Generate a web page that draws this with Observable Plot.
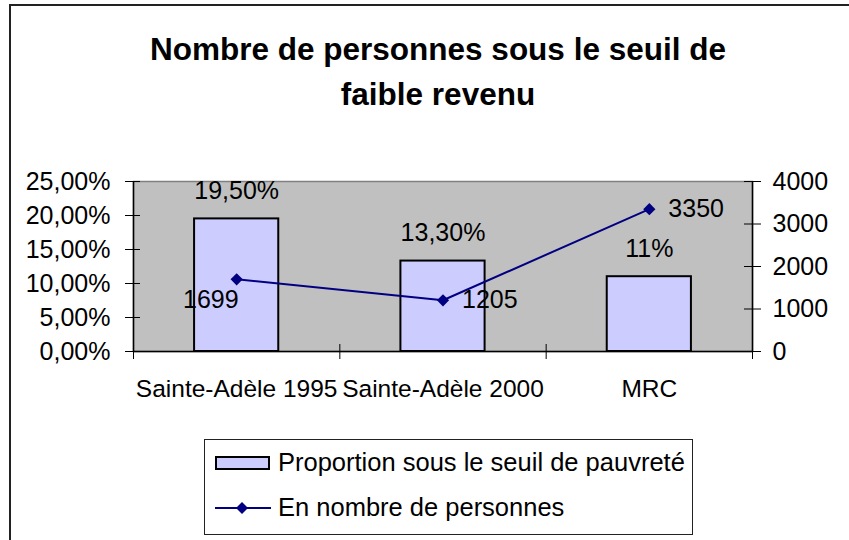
<!DOCTYPE html>
<html>
<head>
<meta charset="utf-8">
<script src="https://cdn.jsdelivr.net/npm/d3@7"></script>
<script src="https://cdn.jsdelivr.net/npm/@observablehq/plot@0.6"></script>
<style>
  html, body { margin: 0; padding: 0; background: #fff; }
  body { width: 849px; height: 540px; position: relative; overflow: hidden; font-family: "Liberation Sans", Arial, sans-serif; }
  #frame { position: absolute; left: 9px; top: 4px; width: 860px; height: 600px; border-left: 2px solid #222; border-top: 2px solid #222; box-sizing: border-box; }
  #chart { position: absolute; left: 0; top: 0; }
  #title { position: absolute; left: 88px; width: 700px; top: 27px; text-align: center; font-weight: bold; font-size: 31.5px; line-height: 45px; color: #000; }
  #legend { position: absolute; left: 204px; top: 439px; width: 489px; height: 96px; border: 1px solid #222; box-sizing: border-box; background: #fff; font-size: 25.5px; color: #000; }
  .row { position: absolute; left: 10px; display: flex; align-items: center; white-space: nowrap; }
  .row svg { margin-right: 5px; }
</style>
</head>
<body>
<div id="frame"></div>
<div id="chart"></div>
<div id="title">Nombre de personnes sous le seuil de<br>faible revenu</div>
<div id="legend">
  <div class="row" style="top:8px"><svg width="58" height="16"><rect x="1" y="2" width="53" height="12" fill="#ccccff" stroke="#000" stroke-width="2"></rect></svg><span id="lg1"></span></div>
  <div class="row" style="top:53px"><svg width="58" height="16"><line x1="0" y1="8" x2="56" y2="8" stroke="#000080" stroke-width="2"></line><path d="M27,2 L33,8 L27,14 L21,8 Z" fill="#000080"></path></svg><span id="lg2"></span></div>
</div>
<script>
const categories = ["Sainte-Adèle 1995", "Sainte-Adèle 2000", "MRC"];
const proportions = [0.195, 0.133, 0.11];
const proportionLabels = ["19,50%", "13,30%", "11%"];
const persons = [1699, 1205, 3350];
const leftTicks = [0, 0.05, 0.10, 0.15, 0.20, 0.25];
const rightTicks = [0, 1000, 2000, 3000, 4000];
const seriesNames = ["Proportion sous le seuil de pauvreté", "En nombre de personnes"];

document.getElementById("lg1").textContent = seriesNames[0];
document.getElementById("lg2").textContent = seriesNames[1];

const yMax = 0.25, countMax = 4000;
const toY = c => c / countMax * yMax;
const barHalf = 0.204;
const data = categories.map((c, i) => ({cat: c, i, pct: proportions[i], lab: proportionLabels[i], n: persons[i]}));
const pctFmt = v => (v * 100).toFixed(2).replace(".", ",") + "%";
const font = "Liberation Sans, Arial, sans-serif";
const fs = 25;

const chart = Plot.plot({
  width: 849,
  height: 540,
  marginLeft: 133,
  marginRight: 97,
  marginTop: 181,
  marginBottom: 189,
  style: {fontFamily: font, fontSize: fs + "px", color: "#000", background: "transparent", overflow: "visible"},
  x: {type: "linear", domain: [0, 3], axis: null},
  y: {domain: [0, yMax], axis: null},
  marks: [
    Plot.frame({fill: "#c0c0c0"}),
    Plot.frame({stroke: "#808080", strokeWidth: 1.5}),
    Plot.rectY(data, {x1: d => d.i + 0.5 - barHalf, x2: d => d.i + 0.5 + barHalf, y1: 0, y2: "pct", fill: "#ccccff", stroke: "#000", strokeWidth: 2}),
    Plot.ruleY([0], {stroke: "#000", strokeWidth: 1.5}),
    Plot.ruleX([0, 3], {stroke: "#000", strokeWidth: 1.5}),
    // left axis
    Plot.axisY({anchor: "left", label: null, ticks: leftTicks, tickSize: 15, dx: 7, tickFormat: () => "", stroke: "#000"}),
    Plot.axisY({anchor: "left", label: null, ticks: leftTicks, tickSize: 0, tickPadding: 23, tickFormat: pctFmt, fontSize: fs, fill: "#000"}),
    // right axis
    Plot.axisY({anchor: "right", label: null, ticks: rightTicks.map(toY), tickSize: 17, dx: -9, tickFormat: () => "", stroke: "#000"}),
    Plot.axisY({anchor: "right", label: null, ticks: rightTicks.map(toY), tickSize: 0, tickPadding: 20, tickFormat: v => String(Math.round(v / yMax * countMax)), fontSize: fs, fill: "#000"}),
    // bottom axis
    Plot.axisX({anchor: "bottom", label: null, ticks: [0, 1, 2, 3], tickSize: 15, dy: -7, tickFormat: () => "", stroke: "#000"}),
    Plot.axisX({anchor: "bottom", label: null, ticks: data.map(d => d.i + 0.5), tickSize: 0, tickPadding: 28, tickFormat: v => categories[Math.floor(v)], fontSize: 24.5, fill: "#000"}),
    // bar labels
    Plot.text(data, {x: d => d.i + 0.5, y: "pct", text: "lab", dy: -28, fontSize: fs, fill: "#000"}),
    // line
    Plot.line(data, {x: d => d.i + 0.5, y: d => toY(d.n), stroke: "#000080", strokeWidth: 2}),
    Plot.dot(data, {x: d => d.i + 0.5, y: d => toY(d.n), symbol: "diamond2", r: 5.5, fill: "#000080", stroke: "none"}),
    Plot.text(data.filter(d => d.i === 0), {x: d => d.i + 0.5, y: d => toY(d.n), text: d => String(d.n), textAnchor: "end", dx: 2, dy: 21, fontSize: fs, fill: "#000"}),
    Plot.text(data.filter(d => d.i > 0), {x: d => d.i + 0.5, y: d => toY(d.n), text: d => String(d.n), textAnchor: "start", dx: 19, fontSize: fs, fill: "#000"})
  ]
});
document.getElementById("chart").appendChild(chart);
</script>
</body>
</html>
